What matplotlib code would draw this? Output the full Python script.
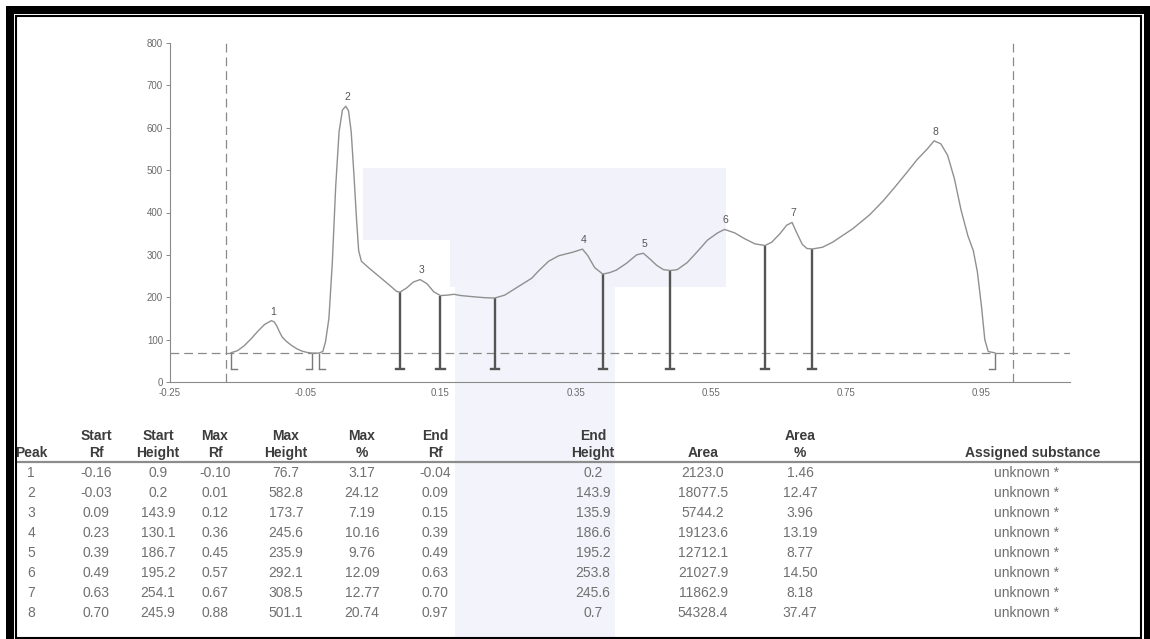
import matplotlib
matplotlib.use("Agg")
import matplotlib.pyplot as plt
from matplotlib.patches import Rectangle
from matplotlib.lines import Line2D

plt.rcParams['font.family'] = ['Liberation Sans', 'DejaVu Sans']
plt.rcParams['axes.unicode_minus'] = False

# ---- peak table (densitogram evaluation) ----
peak_no = [1, 2, 3, 4, 5, 6, 7, 8]
start_rf = [-0.16, -0.03, 0.09, 0.23, 0.39, 0.49, 0.63, 0.70]
start_height = [0.9, 0.2, 143.9, 130.1, 186.7, 195.2, 254.1, 245.9]
max_rf = [-0.10, 0.01, 0.12, 0.36, 0.45, 0.57, 0.67, 0.88]
max_height = [76.7, 582.8, 173.7, 245.6, 235.9, 292.1, 308.5, 501.1]
max_pct = [3.17, 24.12, 7.19, 10.16, 9.76, 12.09, 12.77, 20.74]
end_rf = [-0.04, 0.09, 0.15, 0.39, 0.49, 0.63, 0.70, 0.97]
end_height = [0.2, 143.9, 135.9, 186.6, 195.2, 253.8, 245.6, 0.7]
area = [2123.0, 18077.5, 5744.2, 19123.6, 12712.1, 21027.9, 11862.9, 54328.4]
area_pct = [1.46, 12.47, 3.96, 13.19, 8.77, 14.50, 8.18, 37.47]
substance = ["unknown *"] * 8

# detector baseline (AU) that peak heights are measured from
baseline = 68.0
# evaluation window (Rf)
window_rf = [-0.167, 0.997]

# extra trace samples between the tabulated points (Rf, AU)
trace_rf = [-0.15, -0.14, -0.13, -0.12, -0.11, -0.096, -0.092, -0.088, -0.084, -0.078,
            -0.07, -0.062, -0.055, -0.048,
            -0.024, -0.02, -0.015, -0.01, -0.005, 0.0, 0.005, 0.014, 0.018, 0.022,
            0.026, 0.029, 0.033, 0.045, 0.06, 0.075, 0.085,
            0.10, 0.11, 0.13, 0.14, 0.16, 0.17, 0.18, 0.20, 0.215,
            0.245, 0.26, 0.272, 0.285, 0.295, 0.31, 0.325, 0.345, 0.368, 0.378,
            0.40, 0.41, 0.425, 0.44, 0.46, 0.47, 0.48,
            0.50, 0.515, 0.53, 0.545, 0.56, 0.585, 0.60, 0.615,
            0.64, 0.652, 0.662, 0.676, 0.685, 0.692,
            0.715, 0.73, 0.76, 0.785, 0.805, 0.822, 0.84, 0.855, 0.87,
            0.89, 0.90, 0.91, 0.92, 0.93, 0.938, 0.944, 0.95, 0.955, 0.96]
trace_val = [74, 86, 102, 120, 136, 142, 132, 118, 106, 96,
             86, 78, 73, 70,
             72, 95, 150, 280, 460, 590, 642, 640, 590, 490,
             380, 310, 285, 268, 248, 228, 214,
             222, 236, 232, 213, 205, 207, 204, 201, 199,
             205, 220, 232, 245, 262, 285, 298, 306, 298, 270,
             258, 264, 280, 300, 290, 275, 265,
             265, 282, 308, 335, 352, 352, 338, 326,
             330, 350, 370, 355, 325, 315,
             318, 330, 362, 395, 428, 460, 495, 525, 550,
             562, 535, 480, 405, 345, 310, 260, 180, 100, 72]

W, H = 1150, 639


def fx(x):
    return x / W


def fy(y):
    return 1 - y / H


fig = plt.figure(figsize=(W / 100, H / 100), dpi=100)
fig.patch.set_facecolor('white')

# faint tinted band behind the chart and table
for (x0, y0, x1, y1, c) in [(363, 168, 726, 240, '#f1f2fa'),
                            (450, 240, 726, 287, '#f1f2fa'),
                            (455, 287, 615, 639, '#f3f4fb')]:
    fig.add_artist(Rectangle((fx(x0), fy(y1)), fx(x1) - fx(x0), (y1 - y0) / H,
                             transform=fig.transFigure, facecolor=c,
                             edgecolor='none', zorder=-5))

# ---- densitogram ----
ax = fig.add_axes([fx(170), fy(382), fx(1070) - fx(170), (382 - 43) / H])
ax.set_facecolor('none')

# combine tabulated points with the extra samples
points = {}
for r, h in zip(start_rf, start_height):
    points.setdefault(round(r, 3), baseline + h)
for r, h in zip(max_rf, max_height):
    points.setdefault(round(r, 3), baseline + h)
for r, h in zip(end_rf, end_height):
    points.setdefault(round(r, 3), baseline + h)
for r, v in zip(trace_rf, trace_val):
    points.setdefault(round(r, 3), v)
xs = sorted(points)
ys = [points[k] for k in xs]

ax.plot(xs, ys, color='#909090', lw=1.0, zorder=4, solid_joinstyle='round')

dash = (0, (7, 4))
ax.axhline(baseline, color='#8a8a8a', lw=0.9, ls=dash, zorder=2)
for r in window_rf:
    ax.axvline(r, color='#8a8a8a', lw=0.9, ls=dash, zorder=2)

# peak limit markers
mark_bottom = 30
starts = {round(r, 3) for r in start_rf}
ends = {round(r, 3) for r in end_rf}
for r in sorted(starts | ends):
    top = points[r]
    on_base = top < baseline + 10
    col = '#7a7a7a' if on_base else '#555555'
    lw = 1.0 if on_base else 1.7
    ax.plot([r, r], [top, mark_bottom], color=col, lw=lw, zorder=3,
            solid_capstyle='butt')
    if on_base:
        if r in starts and r not in ends:
            seg = [r, r + 0.009]
        else:
            seg = [r - 0.009, r]
    else:
        seg = [r - 0.006, r + 0.006]
    ax.plot(seg, [mark_bottom, mark_bottom], color=col, lw=lw, zorder=3)

for n, r, h in zip(peak_no, max_rf, max_height):
    ax.annotate(str(n), (r, baseline + h), xytext=(1, 3), textcoords='offset points',
                ha='center', va='bottom', fontsize=7.5, color='#555555')

ax.set_xlim(-0.25, 1.081)
ax.set_ylim(0, 800)
xt = [-0.25, -0.05, 0.15, 0.35, 0.55, 0.75, 0.95]
ax.set_xticks(xt)
ax.set_xticklabels([f"{v:.2f}" for v in xt])
ax.set_yticks(range(0, 801, 100))
ax.set_yticklabels([str(v) for v in range(0, 801, 100)])
ax.tick_params(axis='x', length=0, pad=4, labelsize=7, labelcolor='#6a6a6a')
ax.tick_params(axis='y', length=3, width=0.7, color='#888888', pad=2,
               labelsize=7, labelcolor='#6a6a6a')
for s in ['top', 'right']:
    ax.spines[s].set_visible(False)
for s in ['left', 'bottom']:
    ax.spines[s].set_color('#8a8a8a')
    ax.spines[s].set_linewidth(0.8)

# ---- table ----
col_x = [31, 96, 158, 215, 286, 362, 435, 593, 703, 800]
head1 = ['', 'Start', 'Start', 'Max', 'Max', 'Max', 'End', 'End', '', 'Area']
head2 = ['Peak', 'Rf', 'Height', 'Rf', 'Height', '%', 'Rf', 'Height', 'Area', '%']
subst_x = 1033
hdr_col = '#3c3c3c'
txt_col = '#707070'
for x, a, b in zip(col_x, head1, head2):
    if a:
        fig.text(fx(x), fy(436), a, ha='center', va='center', fontsize=10,
                 fontweight='bold', color=hdr_col)
    fig.text(fx(x), fy(453), b, ha='center', va='center', fontsize=10,
             fontweight='bold', color=hdr_col)
fig.text(fx(subst_x), fy(453), 'Assigned substance', ha='center', va='center',
         fontsize=10, fontweight='bold', color=hdr_col)

fig.add_artist(Line2D([fx(17), fx(1140)], [fy(462), fy(462)], transform=fig.transFigure,
                      color='#8c8c8c', lw=1.6))

for i in range(len(peak_no)):
    y = fy(473 + 20 * i)
    cells = [str(peak_no[i]), f"{start_rf[i]:.2f}", f"{start_height[i]:.1f}",
             f"{max_rf[i]:.2f}", f"{max_height[i]:.1f}", f"{max_pct[i]:.2f}",
             f"{end_rf[i]:.2f}", f"{end_height[i]:.1f}", f"{area[i]:.1f}",
             f"{area_pct[i]:.2f}"]
    for x, c in zip(col_x, cells):
        fig.text(fx(x), y, c, ha='center', va='center', fontsize=10, color=txt_col)
    fig.text(fx(1027), y, substance[i], ha='center', va='center', fontsize=10,
             color=txt_col)

# ---- page frame ----
black = 'black'
for (x0, y0, x1, y1) in [(6, 6, 1150, 14), (6, 6, 14, 639), (1144, 6, 1150, 639)]:
    fig.add_artist(Rectangle((fx(x0), fy(y1)), fx(x1) - fx(x0), (y1 - y0) / H,
                             transform=fig.transFigure, facecolor=black,
                             edgecolor='none', zorder=10))
fig.add_artist(Rectangle((fx(16), fy(638)), fx(1141) - fx(16), (638 - 16) / H,
                         transform=fig.transFigure, fill=False, edgecolor=black,
                         lw=1.5, zorder=10))

fig.savefig('out.png', dpi=100, facecolor='white')
